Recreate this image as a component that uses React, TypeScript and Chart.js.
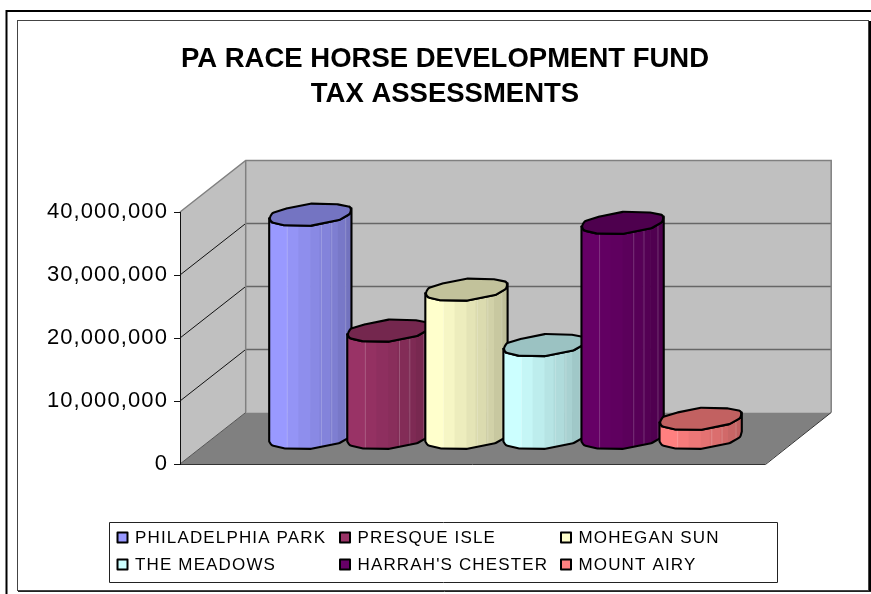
import React, { useEffect, useRef } from "react";
import { Chart, registerables } from "chart.js";

Chart.register(...registerables);

const categories = [""];
const titleLines = ["PA RACE HORSE DEVELOPMENT FUND", "TAX ASSESSMENTS"];
const seriesNames = ["PHILADELPHIA PARK", "PRESQUE ISLE", "MOHEGAN SUN", "THE MEADOWS", "HARRAH'S CHESTER", "MOUNT AIRY"];
const philadelphiaPark = [35500000];
const presqueIsle = [17100000];
const mohegunSun = [23600000];
const theMeadows = [14800000];
const harrahsChester = [34200000];
const mountAiry = [3100000];
const seriesValues = [philadelphiaPark, presqueIsle, mohegunSun, theMeadows, harrahsChester, mountAiry];
const seriesColors = ["#9999FF", "#993366", "#FFFFCC", "#CCFFFF", "#660066", "#FF8080"];
const yTicks = [0, 10000000, 20000000, 30000000, 40000000];

const FONT = '"Liberation Sans", Arial, sans-serif';
const DEPTH_X = 65.7;
const DEPTH_Y = -51.5;
// Outline of a cylinder's end cap, as offsets from its centre: first the near half (left to right), then the far half.
const CAP_NEAR = [[-41.2, 3.7], [-38.8, 7.7], [-26, 10.7], [0.5, 11.1], [29, 5.3], [39.5, -0.7], [41, -6.3]];
const CAP_FAR = [[38.8, -8], [27, -10.3], [0.5, -11], [-23, -6.3], [-38, -1.7]];
const STRIPES = [0, 0.22, 0.355, 0.5, 0.61, 0.74, 0.835, 0.925, 1];
const SHEEN = [0.22, 0.635, 0.76, 0.93];
const LEGEND_COLS = [117.5, 340, 561];
const LEGEND_ROWS = [537.5, 564.5];

function shade(hex: string, f: number) {
  const n = parseInt(hex.slice(1), 16);
  const r = Math.round(((n >> 16) & 255) * f);
  const g = Math.round(((n >> 8) & 255) * f);
  const b = Math.round((n & 255) * f);
  return `rgb(${r},${g},${b})`;
}

function roundedRun(path: Path2D, pts: number[][], radius: number) {
  for (let i = 1; i < pts.length - 1; i++) {
    path.arcTo(pts[i][0], pts[i][1], pts[i + 1][0], pts[i + 1][1], radius);
  }
  const last = pts[pts.length - 1];
  path.lineTo(last[0], last[1]);
}

function drawCylinder(ctx: CanvasRenderingContext2D, x: number, top: number, base: number, w: number, color: string) {
  const cx = x + DEPTH_X / 2;
  const yTop = top + DEPTH_Y / 2;
  const yBase = base + DEPTH_Y / 2;
  const k = w / 82;
  const place = (pts: number[][], yc: number) => pts.map((p) => [cx + p[0] * k, yc + p[1]]);
  const nearTop = place(CAP_NEAR, yTop);
  const nearBase = place(CAP_NEAR, yBase);
  const far = place(CAP_FAR, yTop);

  const side = new Path2D();
  side.moveTo(nearTop[0][0], nearTop[0][1]);
  roundedRun(side, nearTop, 4);
  const backward = [...nearBase].reverse();
  side.lineTo(backward[0][0], backward[0][1]);
  roundedRun(side, backward, 4);
  side.closePath();

  const left = nearTop[0][0];
  const right = nearTop[nearTop.length - 1][0];
  const span = right - left;
  ctx.save();
  ctx.clip(side);
  for (let i = 0; i < STRIPES.length - 1; i++) {
    ctx.fillStyle = shade(color, 1 - 0.25 * (i / (STRIPES.length - 2)));
    const a = left + STRIPES[i] * span;
    const b = left + STRIPES[i + 1] * span;
    ctx.fillRect(a, yTop - 20, b - a + 0.6, yBase - yTop + 60);
  }
  ctx.strokeStyle = "rgba(255,255,255,0.2)";
  ctx.lineWidth = 1;
  SHEEN.forEach((f) => {
    ctx.beginPath();
    ctx.moveTo(left + f * span, yTop - 20);
    ctx.lineTo(left + f * span, yBase + 40);
    ctx.stroke();
  });
  ctx.restore();

  ctx.lineJoin = "round";
  ctx.strokeStyle = "#000";
  ctx.lineWidth = 2.1;
  ctx.stroke(side);

  const ring = [...nearTop, ...far];
  const cap = new Path2D();
  cap.moveTo(ring[0][0], ring[0][1]);
  roundedRun(cap, [...ring, ring[0], ring[1]], 4);
  cap.closePath();
  ctx.fillStyle = shade(color, 0.76);
  ctx.fill(cap);
  ctx.stroke(cap);
}

const cylinderPlugin = {
  id: "cylinderScene",
  afterLayout(chart: any) {
    // The title is centred over the plot's wide band rather than over the padded box.
    chart.titleBlock.left += 124.5;
  },
  beforeDraw(chart: any) {
    const { ctx, chartArea: a, scales } = chart;
    const y = scales.y;
    const poly = (pts: number[][]) => {
      ctx.beginPath();
      pts.forEach((p, i) => (i ? ctx.lineTo(p[0], p[1]) : ctx.moveTo(p[0], p[1])));
      ctx.closePath();
    };
    ctx.save();
    // frames
    ctx.strokeStyle = "#000";
    ctx.lineWidth = 2;
    ctx.beginPath();
    ctx.moveTo(6.5, 594);
    ctx.lineTo(6.5, 11);
    ctx.lineTo(871, 11);
    ctx.stroke();
    ctx.beginPath();
    ctx.moveTo(870, 21);
    ctx.lineTo(870, 591);
    ctx.stroke();
    ctx.strokeStyle = "#444";
    ctx.lineWidth = 1;
    ctx.strokeRect(17.5, 20.5, 851, 570);
    ctx.beginPath();
    ctx.moveTo(18, 591.5);
    ctx.lineTo(871, 591.5);
    ctx.strokeStyle = "#222";
    ctx.stroke();

    const bx = a.left + DEPTH_X;
    const brx = a.right + DEPTH_X;
    const ty = a.top + DEPTH_Y;
    const by = a.bottom + DEPTH_Y;
    // walls
    ctx.fillStyle = "#C0C0C0";
    poly([[bx, ty], [brx, ty], [brx, by], [bx, by]]);
    ctx.fill();
    poly([[a.left, a.top], [bx, ty], [bx, by], [a.left, a.bottom]]);
    ctx.fill();
    ctx.fillStyle = "#808080";
    poly([[a.left, a.bottom], [bx, by], [brx, by], [a.right, a.bottom]]);
    ctx.fill();

    // wall grid
    yTicks.forEach((v) => {
      if (v === 0 || v === 40000000) return;
      const py = y.getPixelForValue(v);
      ctx.strokeStyle = "#666";
      ctx.lineWidth = 1.5;
      ctx.beginPath();
      ctx.moveTo(bx, py + DEPTH_Y);
      ctx.lineTo(brx, py + DEPTH_Y);
      ctx.stroke();
      ctx.strokeStyle = "#111";
      ctx.lineWidth = 1;
      ctx.beginPath();
      ctx.moveTo(a.left, py);
      ctx.lineTo(bx, py + DEPTH_Y);
      ctx.stroke();
    });
    // wall edges
    ctx.strokeStyle = "#808080";
    ctx.lineWidth = 1.5;
    ctx.beginPath();
    ctx.moveTo(a.left, a.top);
    ctx.lineTo(bx, ty);
    ctx.lineTo(brx, ty);
    ctx.lineTo(brx, by);
    ctx.moveTo(bx, ty);
    ctx.lineTo(bx, by);
    ctx.stroke();
    ctx.strokeStyle = "#555";
    ctx.lineWidth = 1;
    ctx.beginPath();
    ctx.moveTo(a.left, a.bottom);
    ctx.lineTo(bx, by);
    ctx.stroke();
    ctx.strokeStyle = "#333";
    ctx.beginPath();
    ctx.moveTo(a.left, a.bottom + 0.5);
    ctx.lineTo(a.right, a.bottom + 0.5);
    ctx.lineTo(brx, by);
    ctx.stroke();
    ctx.restore();
  },
  beforeDatasetDraw() {
    return false;
  },
  afterDatasetsDraw(chart: any) {
    const { ctx } = chart;
    ctx.save();
    chart.data.datasets.forEach((ds: any, i: number) => {
      const bar = chart.getDatasetMeta(i).data[0];
      drawCylinder(ctx, bar.x, bar.y, bar.base, bar.width * 82 / 78, ds.backgroundColor);
    });
    // legend
    ctx.strokeStyle = "#222";
    ctx.lineWidth = 1;
    ctx.strokeRect(109.5, 522.5, 668, 60);
    ctx.font = `17px ${FONT}`;
    ctx.textBaseline = "middle";
    ctx.textAlign = "left";
    (ctx as any).letterSpacing = "1.15px";
    chart.data.datasets.forEach((ds: any, i: number) => {
      const x = LEGEND_COLS[i % 3];
      const yy = LEGEND_ROWS[Math.floor(i / 3)];
      ctx.fillStyle = ds.backgroundColor;
      ctx.fillRect(x, yy - 5, 10, 10);
      ctx.strokeStyle = "#000";
      ctx.lineWidth = 2;
      ctx.strokeRect(x, yy - 5, 10, 10);
      ctx.fillStyle = "#000";
      ctx.fillText(ds.label, x + 17.5, yy + 0.5);
    });
    ctx.restore();
  },
};

export default function App() {
  const ref = useRef<HTMLCanvasElement | null>(null);
  useEffect(() => {
    if (!ref.current) return;
    const chart = new Chart(ref.current, {
      type: "bar",
      data: {
        labels: categories,
        datasets: seriesNames.map((label, i) => ({
          label,
          data: seriesValues[i],
          backgroundColor: seriesColors[i],
        })),
      },
      options: {
        responsive: false,
        animation: false,
        events: [],
        layout: { padding: { left: 0, right: 105.5, top: 0, bottom: 130 } },
        datasets: { bar: { barPercentage: 1, categoryPercentage: 0.8 } },
        scales: {
          x: { display: false },
          y: {
            min: 0,
            max: 40000000,
            afterFit: (s: any) => {
              s.width = 180;
              if (!s.__spaced) {
                s.__spaced = true;
                const original = s.drawLabels;
                s.drawLabels = function (area: any) {
                  const c = s.ctx;
                  c.save();
                  c.letterSpacing = "1.1px";
                  original.call(s, area);
                  c.restore();
                };
              }
            },
            afterBuildTicks: (s: any) => {
              s.ticks = yTicks.map((value) => ({ value }));
            },
            border: { display: true, color: "#111", width: 1 },
            grid: { drawOnChartArea: false, drawTicks: true, tickLength: 6, color: "#111" },
            ticks: {
              color: "#000",
              padding: 6,
              font: { family: FONT, size: 22 },
              callback: (v: any) => Number(v).toLocaleString("en-US"),
            },
          },
        },
        plugins: {
          legend: { display: false },
          tooltip: { enabled: false },
          title: {
            display: true,
            text: titleLines,
            color: "#000",
            font: { family: FONT, size: 27.5, weight: "bold", lineHeight: 35 / 27.5 },
            padding: { top: 41.5, bottom: 100.5 },
          },
        },
      },
      plugins: [cylinderPlugin],
    } as any);
    return () => chart.destroy();
  }, []);
  return (
    <div style={{ position: "absolute", left: 0, top: 0, width: 871, height: 594 }}>
      <canvas ref={ref} width={871} height={594} style={{ display: "block" }} />
    </div>
  );
}
